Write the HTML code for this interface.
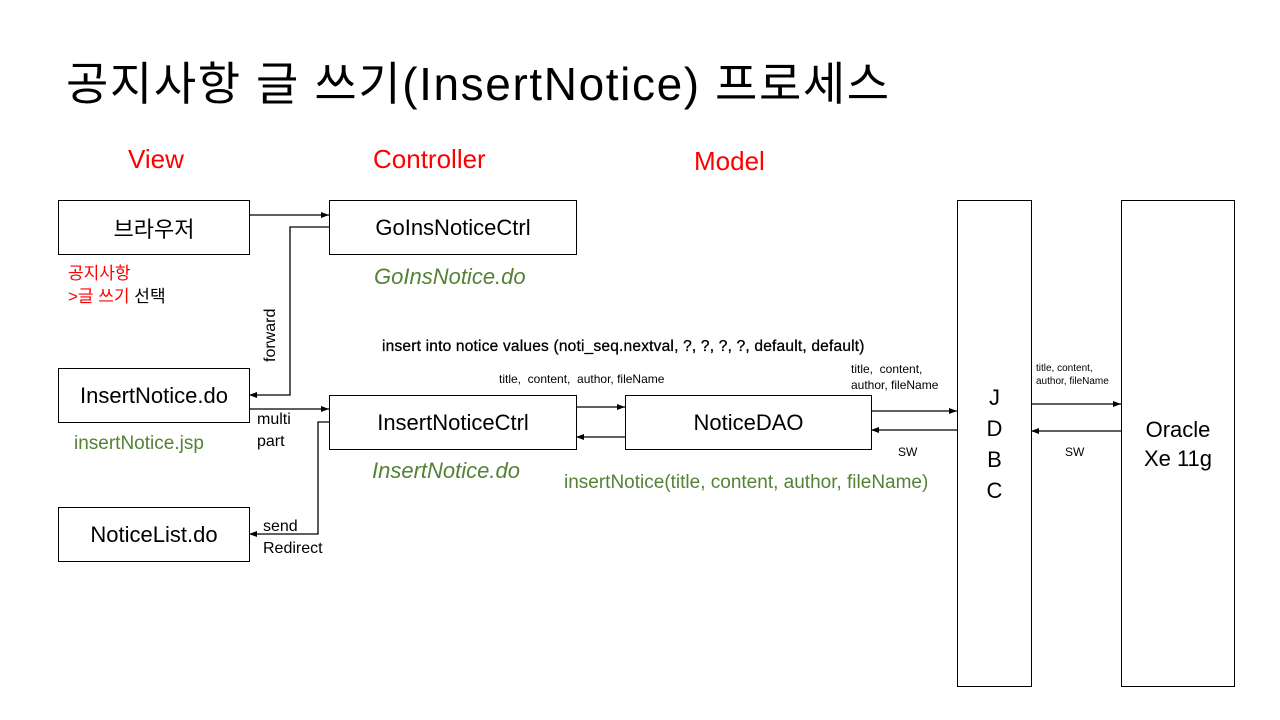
<!DOCTYPE html>
<html><head><meta charset="utf-8"><style>
body{margin:0;width:1280px;height:720px;background:#fff;position:relative;overflow:hidden;font-family:"Liberation Sans","Noto Sans CJK KR",sans-serif;}
.a{position:absolute;white-space:nowrap;}
.box{position:absolute;border:1px solid #000;box-sizing:border-box;display:flex;align-items:center;justify-content:center;font-size:22px;}
.g{color:#548235;font-style:italic;font-size:22px;}
.r{color:#f00;font-size:26px;}
svg{position:absolute;left:0;top:0;}
</style></head><body>
<div class="a" style="left:66px;top:48px;font-size:46px;letter-spacing:1.6px;">공지사항 글 쓰기(InsertNotice) 프로세스</div>
<div class="a r" style="left:128px;top:144px;">View</div>
<div class="a r" style="left:373px;top:144px;">Controller</div>
<div class="a r" style="left:694px;top:146px;">Model</div>

<div class="box" style="left:58px;top:200px;width:192px;height:55px;">브라우저</div>
<div class="box" style="left:329px;top:200px;width:248px;height:55px;">GoInsNoticeCtrl</div>
<div class="box" style="left:58px;top:368px;width:192px;height:55px;">InsertNotice.do</div>
<div class="box" style="left:329px;top:395px;width:248px;height:55px;">InsertNoticeCtrl</div>
<div class="box" style="left:625px;top:395px;width:247px;height:55px;">NoticeDAO</div>
<div class="box" style="left:58px;top:507px;width:192px;height:55px;">NoticeList.do</div>
<div class="box" style="left:957px;top:200px;width:75px;height:487px;text-align:center;line-height:31px;">J<br>D<br>B<br>C</div>
<div class="box" style="left:1121px;top:200px;width:114px;height:487px;text-align:center;line-height:29px;">Oracle<br>Xe 11g</div>

<div class="a" style="left:68px;top:262px;font-size:17px;line-height:23px;"><span style="color:#f00">공지사항</span><br><span style="color:#f00">&gt;글 쓰기</span> 선택</div>
<div class="a g" style="left:374px;top:264px;">GoInsNotice.do</div>
<div class="a g" style="left:372px;top:458px;">InsertNotice.do</div>
<div class="a" style="left:74px;top:433px;color:#548235;font-size:19px;">insertNotice.jsp</div>
<div class="a" style="left:564px;top:472px;color:#548235;font-size:19px;">insertNotice(title, content, author, fileName)</div>
<div class="a" style="left:382px;top:338px;font-size:15.5px;letter-spacing:0.2px;-webkit-text-stroke:0.3px #000;">insert into notice values (noti_seq.nextval, ?, ?, ?, ?, default, default)</div>
<div class="a" style="left:499px;top:372px;font-size:12px;">title,&nbsp; content,&nbsp; author, fileName</div>
<div class="a" style="left:851px;top:361px;font-size:12px;line-height:16px;">title,&nbsp; content,<br>author, fileName</div>
<div class="a" style="left:1036px;top:362px;font-size:10px;line-height:13px;">title, content,<br>author, fileName</div>
<div class="a" style="left:898px;top:445px;font-size:12px;">SW</div>
<div class="a" style="left:1065px;top:445px;font-size:12px;">SW</div>
<div class="a" style="left:257px;top:409px;font-size:16px;line-height:22px;">multi<br>part</div>
<div class="a" style="left:263px;top:516px;font-size:16px;line-height:22px;">send<br>Redirect</div>
<div class="a" style="left:262px;top:362px;font-size:16px;transform:rotate(-90deg);transform-origin:0 0;">forward</div>

<svg width="1280" height="720">
<defs><marker id="m" markerWidth="8" markerHeight="8" refX="8" refY="4" orient="auto" markerUnits="userSpaceOnUse"><path d="M0,1 L8,4 L0,7z" fill="#000"/></marker></defs>
<g stroke="#000" stroke-width="1.3" fill="none" marker-end="url(#m)">
<path d="M249,215 H329"/>
<path d="M329,227 H290 V395 H249"/>
<path d="M249,409 H329"/>
<path d="M329,422 H318 V534 H249"/>
<path d="M576,407 H625"/>
<path d="M625,437 H576"/>
<path d="M871,411 H957"/>
<path d="M957,430 H871"/>
<path d="M1031,404 H1121"/>
<path d="M1121,431 H1031"/>
</g>
</svg>
</body></html>
